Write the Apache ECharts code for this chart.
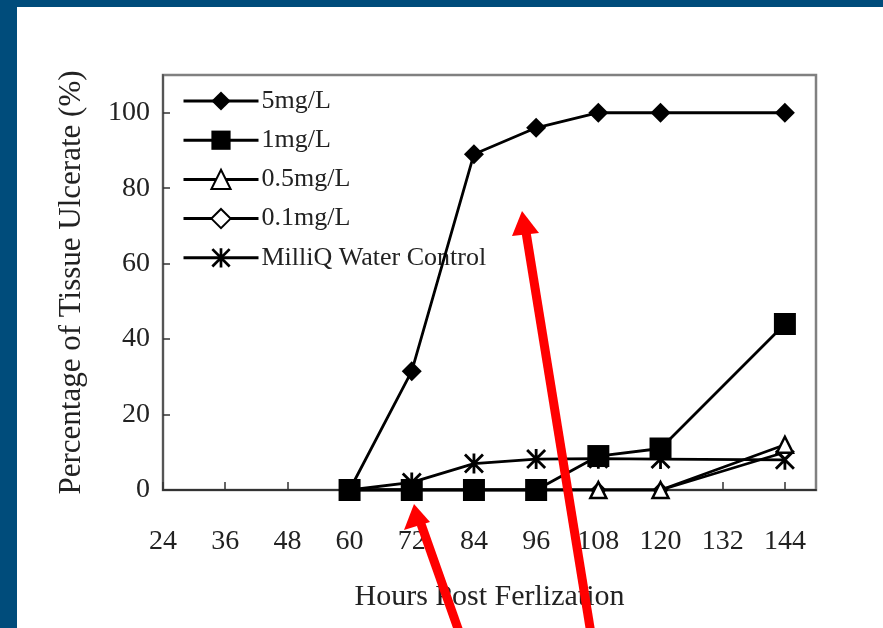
<!DOCTYPE html>
<html>
<head>
<meta charset="utf-8">
<script src="https://cdn.jsdelivr.net/npm/echarts@6/dist/echarts.min.js"></script>
<style>
html,body{margin:0;padding:0;background:#fff;}
#chart{width:883px;height:628px;}
</style>
</head>
<body>
<div id="chart"></div>
<script>
// ---- data ----
const hours = [60, 72, 84, 96, 108, 120, 144];
const seriesNames = ['5mg/L', '1mg/L', '0.5mg/L', '0.1mg/L', 'MilliQ Water Control'];
const v5mg   = [0, 31.5, 89, 96, 100, 100, 100];
const v1mg   = [0, 0, 0, 0, 9, 11, 44];
const v05mg  = [0, 0, 0, 0, 0, 0, 12];
const v01mg  = [0, 0, 0, 0, 0, 0, 10];
const vWater = [0, 2, 7, 8.2, 8.3, 8.2, 8];
const xTicks = [24, 36, 48, 60, 72, 84, 96, 108, 120, 132, 144];
const yTicks = [0, 20, 40, 60, 80, 100];

const FONT = 'Liberation Serif';
const TXT = '#222';
const asterisk = 'path://M8.6 0 L11.4 0 L11.4 20 L8.6 20 Z M2 0 L20 18 L18 20 L0 2 Z M18 0 L20 2 L2 20 L0 18 Z';

function pairs(vals){ return hours.map((h,i)=>[h, vals[i]]); }

const styles = [
  {symbol:'diamond', size:20, fill:'#000'},
  {symbol:'rect', size:22, fill:'#000'},
  {symbol:'triangle', size:16, fill:'#fff'},
  {symbol:'diamond', size:13, fill:'#fff'},
  {symbol:asterisk, size:20, fill:'#000'}
];
const allVals = [v5mg, v1mg, v05mg, v01mg, vWater];

const series = seriesNames.map((name, k) => ({
  name: name,
  type: 'line',
  data: pairs(allVals[k]),
  symbol: styles[k].symbol,
  symbolSize: styles[k].size,
  showAllSymbol: true,
  z: 10 - k,
  lineStyle: {color:'#000', width: 2.8},
  itemStyle: {color: styles[k].fill, borderColor:'#000', borderWidth: styles[k].fill === '#fff' ? 2.5 : 0, opacity:1},
  emphasis: {disabled:true},
  animation: false
}));

const chart = echarts.init(document.getElementById('chart'), null, {renderer:'canvas'});
chart.setOption({
  backgroundColor: '#fff',
  animation: false,
  grid: {left:163, right:67, top:75, bottom:138, show:true, borderColor:'#808080', borderWidth:2.5, backgroundColor:'transparent'},
  legend: {
    orient: 'vertical', left: 182, top: 88, padding: 0,
    itemWidth: 75, itemHeight: 24, itemGap: 13.2,
    data: seriesNames,
    lineStyle: {width: 3},
    textStyle: {fontFamily: FONT, fontSize: 26, color: TXT, padding:[0,0,0,-2]},
    selectedMode: false
  },
  xAxis: {
    type: 'value', min: 24, max: 150, interval: 12,
    name: 'Hours Post Ferlization', nameLocation: 'middle', nameGap: 92,
    nameTextStyle: {fontFamily: FONT, fontSize: 30, color: TXT},
    axisLine: {show:true, onZero:false, lineStyle:{color:'#333', width:2}},
    axisTick: {show:true, inside:true, length:8, lineStyle:{color:'#333', width:1.5}},
    axisLabel: {fontFamily: FONT, fontSize: 28, color: TXT, margin: 38, showMaxLabel:false,
      formatter: v => xTicks.indexOf(v) >= 0 ? String(v) : ''},
    splitLine: {show:false}
  },
  yAxis: {
    type: 'value', min: 0, max: 110, interval: 20,
    name: 'Percentage of Tissue Ulcerate (%)', nameLocation: 'middle', nameGap: 76, nameRotate: 90,
    nameTextStyle: {fontFamily: FONT, fontSize: 31, color: TXT},
    axisLine: {show:true, onZero:false, lineStyle:{color:'#555', width:2}},
    axisTick: {show:true, inside:true, length:7, lineStyle:{color:'#333', width:1.5}},
    axisLabel: {fontFamily: FONT, fontSize: 28, color: TXT, margin: 13, showMaxLabel:false,
      formatter: v => yTicks.indexOf(v) >= 0 ? String(v) : ''},
    splitLine: {show:false}
  },
  series: series,
  graphic: [
    {type:'rect', shape:{x:0, y:0, width:883, height:7}, style:{fill:'#004C7B'}, z:100},
    {type:'rect', shape:{x:0, y:0, width:17, height:628}, style:{fill:'#004C7B'}, z:100},
    // red annotation arrows
    {type:'line', shape:{x1:462, y1:640, x2:421, y2:524}, style:{stroke:'#FF0000', lineWidth:9}, z:100},
    {type:'polygon', shape:{points:[[414,504],[404,530],[430,522]]}, style:{fill:'#FF0000'}, z:100},
    {type:'line', shape:{x1:592, y1:640, x2:526, y2:232}, style:{stroke:'#FF0000', lineWidth:9}, z:100},
    {type:'polygon', shape:{points:[[522,211],[512,236],[539,233]]}, style:{fill:'#FF0000'}, z:100}
  ]
});
</script>
</body>
</html>
